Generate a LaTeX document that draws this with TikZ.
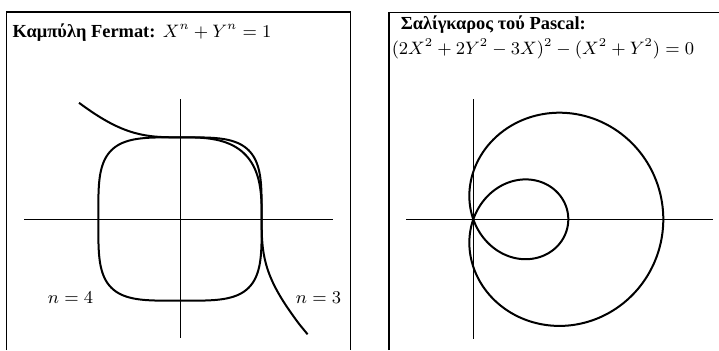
\documentclass[tikz,border=0pt]{standalone}
\usepackage[no-math]{fontspec}
\setmainfont{Liberation Serif}

\tikzset{every picture/.style={line width=0.75pt}}

\begin{document}
\begin{tikzpicture}[
            x=0.5pt,
            y=0.5pt,
            yscale=-1,
            xscale=1,
            every node/.style={text=black, font=\fontsize{9.2}{11}\selectfont},
            line width=0.75pt,
            axis/.style={line width=0.5pt},
            curve/.style={line width=1pt, line join=round},
            frame/.style={line width=0.7pt},
            declare function={
                rfour(\t)=1/((cos(\t)^4+sin(\t)^4)^0.25);
                rthree(\t)=1/((cos(\t)^3+sin(\t)^3)^(1/3));
                rsnail(\t)=(1+3*cos(\t))/2;
            }
        ]
            \useasboundingbox (0,0) rectangle (719,350);

            % left panel: Fermat
            \draw [frame] (6.5,350) -- (6.5,12) -- (350.5,12) -- (350.5,350) ;
            \draw [axis] (24,219) -- (333,219) ;
            \draw [axis] (180,99) -- (180,338) ;
            \draw [curve] plot [domain=0:360, samples=241, smooth cycle] ({180+81.7*rfour(\x)*cos(\x)}, {219-81.7*rfour(\x)*sin(\x)}) ;
            \draw [curve] plot [domain=-42.1:131, samples=241, smooth] ({180+81.7*rthree(\x)*cos(\x)}, {219-81.7*rthree(\x)*sin(\x)}) ;

            \draw (12,37) node (fermat) [anchor=base west][inner sep=0pt] {\textbf{Καμπύλη Fermat:}\hspace{0.4em}$X^n+Y^n=1$};
            \draw (70.5,298) node (nfour) [inner sep=0pt] {$n=4$};
            \draw (318.5,298) node (nthree) [inner sep=0pt] {$n=3$};

            % right panel: Pascal
            \draw [frame] (389,350) -- (389,12.5) -- (719,12.5) ;
            \draw [axis] (406,219.3) -- (713,219.3) ;
            \draw [axis] (473.3,99) -- (473.3,339) ;
            \draw [curve] plot [domain=0:360, samples=361, smooth cycle] ({473.3+95*rsnail(\x)*cos(\x)}, {219.3-95*rsnail(\x)*sin(\x)}) ;

            \draw (400,29) node (pascal) [anchor=base west][inner sep=0pt] {\textbf{Σαλίγκαρος τού Pascal:}};
            \draw (391,54) node (pascaleq) [anchor=base west][inner sep=0pt] {$(2X^2+2Y^2-3X)^2-(X^2+Y^2)=0$};
        \end{tikzpicture}
\end{document}
